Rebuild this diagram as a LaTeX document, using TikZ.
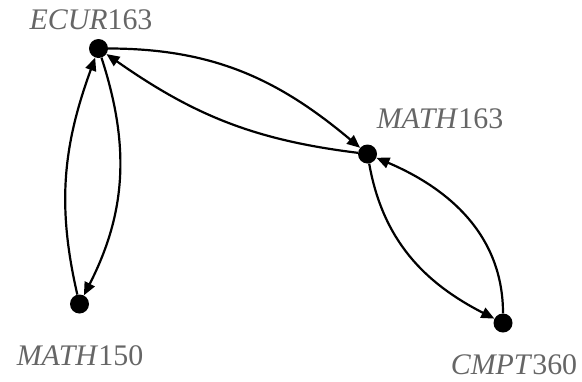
\documentclass[tikz,border=0pt]{standalone}
\usepackage{fontspec}
\setmainfont{Liberation Serif}
\usetikzlibrary{arrows.meta}
\definecolor{labelgray}{RGB}{102,102,102}
\begin{document}
\begin{tikzpicture}[x=1bp,y=-1bp,
  vertex/.style={circle,fill=black,inner sep=0pt,minimum size=19bp},
  lbl/.style={anchor=base,text=labelgray,font=\fontsize{30}{34}\selectfont,inner sep=0pt},
  arc/.style={line width=2.2bp,-{Triangle[length=13bp,width=11bp]}}]
\useasboundingbox (0,0) rectangle (582,381);
\node[vertex] (ecur) at (98.5,48.5) {};
\node[vertex] (m163) at (367.5,154) {};
\node[vertex] (m150) at (79.5,304) {};
\node[vertex] (cmpt) at (503,323) {};
\node[lbl] (lecur) at (91,29) {\textit{ECUR}163};
\node[lbl] (lm163) at (440,128) {\textit{MATH}163};
\node[lbl] (lm150) at (80,365) {\textit{MATH}150};
\node[lbl] (lcmpt) at (514,374) {\textit{CMPT}360};
\draw[arc] (ecur) to[out=0,in=140] (m163);
\draw[arc] (m163) to[out=173,in=-35] (ecur);
\draw[arc] (m150) to[out=103,in=-110] (ecur);
\draw[arc] (ecur) to[out=-72,in=63] (m150);
\draw[arc] (m163) to[out=-80,in=153] (cmpt);
\draw[arc] (cmpt) to[out=90,in=-23] (m163);
\end{tikzpicture}
\end{document}
